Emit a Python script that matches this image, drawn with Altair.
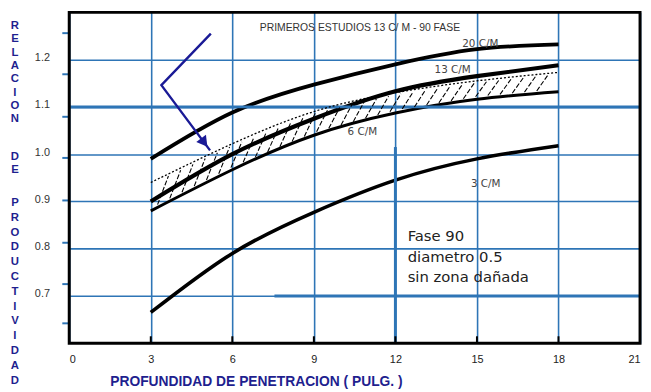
import altair as alt
import numpy as np
import pandas as pd

# ---------------- data ----------------
x_ticks = [0, 3, 6, 9, 12, 15, 18, 21]
y_ticks = [0.7, 0.8, 0.9, 1.0, 1.1, 1.2]
left_marks = [1.256, 1.169, 1.079, 0.992, 0.902, 0.8125, 0.725, 0.642]
bottom_marks = [3, 6, 9, 12, 15, 18]

depth = [3, 6, 9, 12, 15, 18]
cm20 = [0.99, 1.088, 1.147, 1.19, 1.222, 1.232]
cm13 = [0.90, 1.0, 1.075, 1.133, 1.165, 1.188]
band_top = [0.94, 1.022, 1.09, 1.13, 1.155, 1.173]
cm6 = [0.88, 0.967, 1.04, 1.087, 1.116, 1.132]
cm3 = [0.665, 0.79, 0.877, 0.945, 0.99, 1.018]

arrow_x = [5.21, 3.39, 5.18]
arrow_y = [1.255, 1.146, 1.008]

cm_labels = ["20 C/M", "13 C/M", "6 C/M", "3 C/M"]
cm_label_x = [14.46, 13.44, 10.24, 14.78]
cm_label_y = [1.233, 1.177, 1.046, 0.9375]

head_text = ["PRIMEROS ESTUDIOS 13 C/ M - 90  FASE"]
head_x = [7.01]
head_y = [1.267]

note_text = ["Fase 90\ndiametro 0.5\nsin zona dañada"]
note_x = [12.45]
note_y = [0.827]

# thicker blue grid segments
heavy_h = pd.DataFrame({"x": [0, 7.55], "x2": [21, 21], "y": [1.1, 0.7]})
heavy_v = pd.DataFrame({"x": [12], "y": [0.6], "y2": [1.015]})

# vertical (stacked-letter) y title, one word per block
y_title_words = ["RELACION", "DE", "PRODUCTIVIDAD"]
y_title_top = [8, 140, 187]
x_title = "PROFUNDIDAD DE PENETRACION ( PULG. )"

BLUE = "#2e75b6"
NAVY = "#1f1f8f"
W, H = 578, 335

xs = alt.Scale(domain=[0, 21], nice=False, zero=False)
ys = alt.Scale(domain=[0.6, 1.3], nice=False, zero=False)

x_axis = alt.Axis(values=x_ticks, format="d", grid=True, gridColor=BLUE, gridWidth=1.6,
                  domain=False, ticks=False, labelPadding=11, labelFontSize=11,
                  labelFont="Liberation Sans", labelColor="#222",
                  title=x_title, titleFont="Liberation Sans",
                  titleFontSize=14, titleFontWeight="bold", titleColor=NAVY,
                  titleX=41, titleY=39, titleAlign="left", titleBaseline="middle")
y_axis = alt.Axis(values=y_ticks, format=".1f", grid=True, gridColor=BLUE, gridWidth=1.6,
                  domain=False, ticks=False, labelPadding=20, labelFontSize=11,
                  labelOffset=-2, labelFont="Liberation Sans", labelColor="#333",
                  title=None)


def X(f):
    return alt.X(f, scale=xs, axis=x_axis)


def Y(f):
    return alt.Y(f, scale=ys, axis=y_axis)


# ---------------- frames ----------------
curves = pd.DataFrame({
    "depth": depth * 4,
    "value": cm20 + cm13 + cm6 + cm3,
    "series": ["20"] * 6 + ["13"] * 6 + ["6"] * 6 + ["3"] * 6,
    "w": [3.8] * 6 + [4.2] * 6 + [3.0] * 6 + [3.6] * 6,
})
top_df = pd.DataFrame({"depth": depth, "value": band_top})

hx = np.arange(3.25, 17.6, 0.45)
lo = np.interp(hx, depth, cm6) + 0.006
hi = np.interp(hx + 0.4, depth, band_top) - 0.004
hatch = pd.DataFrame({"depth": hx, "value": lo, "x2": hx + 0.4, "y2": hi})

arrow_df = pd.DataFrame({"depth": arrow_x, "value": arrow_y, "o": [0, 1, 2]})
hx0 = arrow_x[1] + 0.86 * (arrow_x[2] - arrow_x[1])
hy0 = arrow_y[1] + 0.86 * (arrow_y[2] - arrow_y[1])
head_df = pd.DataFrame({"depth": [hx0], "value": [hy0]})

ytitle_df = pd.DataFrame({"t": ["\n".join(w) for w in y_title_words], "py": y_title_top})

# ---------------- layers ----------------
curve_layer = alt.Chart(curves).mark_line(color="black", interpolate="natural").encode(
    x=X("depth:Q"), y=Y("value:Q"), detail="series:N",
    strokeWidth=alt.StrokeWidth("w:Q", scale=None),
)

heavy_h_layer = alt.Chart(heavy_h.rename(columns={"x": "depth", "y": "value"})).mark_rule(
    color=BLUE, strokeWidth=3).encode(x=X("depth:Q"), x2="x2:Q", y=Y("value:Q"))
heavy_v_layer = alt.Chart(heavy_v.rename(columns={"x": "depth", "y": "value"})).mark_rule(
    color=BLUE, strokeWidth=3).encode(x=X("depth:Q"), y=Y("value:Q"), y2="y2:Q")

left_tick_layer = alt.Chart(pd.DataFrame({"value": left_marks})).mark_rule(
    color=BLUE, strokeWidth=2).encode(x=alt.value(-7), x2=alt.value(0), y=Y("value:Q"))
bottom_tick_layer = alt.Chart(pd.DataFrame({"depth": bottom_marks})).mark_rule(
    color="black", strokeWidth=2).encode(x=X("depth:Q"), y=alt.value(H - 7), y2=alt.value(H))

hatch_layer = alt.Chart(hatch).mark_rule(color="black", strokeWidth=1.1,
                                          strokeDash=[5, 2]).encode(
    x=X("depth:Q"), y=Y("value:Q"), x2="x2:Q", y2="y2:Q")

top_layer = alt.Chart(top_df).mark_line(color="black", strokeWidth=1.3, strokeDash=[2, 2],
                                        interpolate="natural").encode(
    x=X("depth:Q"), y=Y("value:Q"))

arrow_layer = alt.Chart(arrow_df).mark_line(color="#1a1a96", strokeWidth=2.4).encode(
    x=X("depth:Q"), y=Y("value:Q"), order="o:Q")
head_layer = alt.Chart(head_df).mark_point(shape="triangle", filled=True, color="#1a1a96",
                                           size=150, angle=143, opacity=1).encode(
    x=X("depth:Q"), y=Y("value:Q"))

cm_df = pd.DataFrame({"t": cm_labels, "depth": cm_label_x, "value": cm_label_y})
cm_layer = alt.Chart(cm_df).mark_text(font="DejaVu Sans", fontSize=10.5, color="#444",
                                      align="left", baseline="middle").encode(
    x=X("depth:Q"), y=Y("value:Q"), text="t:N")

head_t = pd.DataFrame({"t": head_text, "depth": head_x, "value": head_y})
head_t_layer = alt.Chart(head_t).mark_text(font="Liberation Sans", fontSize=10.5,
                                           color="#333", align="left",
                                           baseline="middle").encode(
    x=X("depth:Q"), y=Y("value:Q"), text="t:N")

note_df = pd.DataFrame({"t": note_text, "depth": note_x, "value": note_y})
note_layer = alt.Chart(note_df).mark_text(font="DejaVu Sans", fontSize=15, color="#222",
                                          align="left", baseline="middle", lineBreak="\n",
                                          lineHeight=21).encode(
    x=X("depth:Q"), y=Y("value:Q"), text="t:N")

ytitle_a = alt.Chart(ytitle_df.iloc[:2]).mark_text(
    font="Liberation Sans", fontSize=11.5, fontWeight="bold", color=NAVY,
    align="center", baseline="top", lineBreak="\n", lineHeight=13.5).encode(
    x=alt.value(-55), y=alt.Y("py:Q", scale=None), text="t:N")
ytitle_b = alt.Chart(ytitle_df.iloc[2:]).mark_text(
    font="Liberation Sans", fontSize=11.5, fontWeight="bold", color=NAVY,
    align="center", baseline="top", lineBreak="\n", lineHeight=15).encode(
    x=alt.value(-55), y=alt.Y("py:Q", scale=None), text="t:N")

frame_layer = alt.Chart(pd.DataFrame({"a": [0]})).mark_rect(
    fillOpacity=0, stroke="black", strokeWidth=3).encode(
    x=alt.value(0), x2=alt.value(W), y=alt.value(0), y2=alt.value(H))

chart = alt.layer(
    curve_layer, heavy_h_layer, heavy_v_layer, left_tick_layer, bottom_tick_layer,
    hatch_layer, top_layer, arrow_layer, head_layer,
    cm_layer, head_t_layer, note_layer, ytitle_a, ytitle_b, frame_layer,
).properties(
    width=W, height=H,
    padding={"left": 62, "top": 2, "right": 3, "bottom": 46},
    autosize=alt.AutoSizeParams(type="none"),
).configure_view(stroke=None)

chart.save("out.html", embed_options={"renderer": "svg", "actions": False})
